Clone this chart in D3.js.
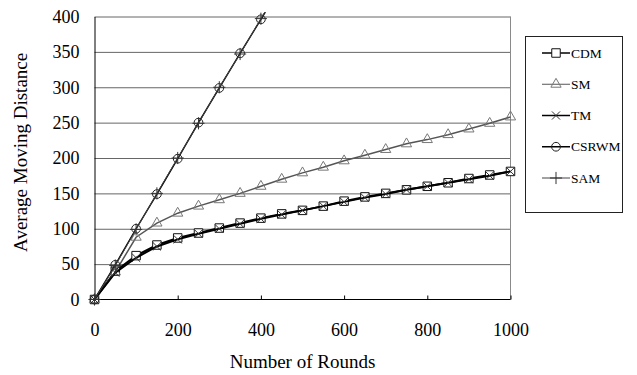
<!DOCTYPE html>
<html lang='en'>
  <head>
    <meta charset='utf-8'>
    <script src='https://cdn.jsdelivr.net/npm/d3@7/dist/d3.min.js'></script>
    <style>
      body { margin: 0; background: #fff; }
      text { font-family: 'Liberation Serif', 'Times New Roman', serif; fill: #000; }
      .grid line { stroke: #666; stroke-width: 1; }
      .grid path { display: none; }
    </style>
  </head>
  <body>
    <div id='chart'></div>
    <script>
      // data
      var rounds = [0, 50, 100, 150, 200, 250, 300, 350, 400, 450, 500,
                    550, 600, 650, 700, 750, 800, 850, 900, 950, 1000];
      var cdm = [0, 40, 62, 77, 87, 94, 101, 108, 115, 121, 126,
                 132, 139, 145, 150, 155, 160, 165, 171, 176, 181];
      var sm = [0, 39, 88, 108, 122, 132, 141, 150, 160, 170, 179,
                187, 196, 204, 212, 220, 226, 233, 241, 249, 258];
      var tm = [0, 38, 59, 75, 85, 93, 100, 107, 114, 120, 126,
                132, 138, 144, 149, 155, 160, 165, 170, 175, 181];
      var csrwm = [0, 49, 100, 149, 199, 250, 299, 348, 396, 445];
      var sam = [0, 48, 99, 150, 200, 249, 300, 347, 397, 446];
      var xTicks = [0, 200, 400, 600, 800, 1000];
      var yTicks = [0, 50, 100, 150, 200, 250, 300, 350, 400];
      var seriesNames = ['CDM', 'SM', 'TM', 'CSRWM', 'SAM'];

      var svgWidth = 637, svgHeight = 375;
      var plotLeft = 94.5, plotRight = 510.5, plotTop = 16.5, plotBottom = 299.5;

      var svg = d3.select('#chart').append('svg')
                  .attr('width', svgWidth)
                  .attr('height', svgHeight);

      var x = d3.scaleLinear().domain([0, 1000]).range([plotLeft, plotRight]);
      var y = d3.scaleLinear().domain([0, 400]).range([plotBottom, plotTop]);

      // gridlines
      svg.append('g')
         .attr('class', 'grid')
         .attr('transform', 'translate(' + plotLeft + ',0)')
         .call(d3.axisLeft(y).tickValues(yTicks.slice(1))
               .tickSize(-(plotRight - plotLeft)).tickFormat(''));

      // right border of plot area
      svg.append('line')
         .attr('x1', plotRight).attr('x2', plotRight)
         .attr('y1', y(400)).attr('y2', y(0))
         .attr('stroke', '#8a8a8a');

      // axes
      var xAxis = svg.append('g')
         .attr('transform', 'translate(0,' + plotBottom + ')')
         .call(d3.axisBottom(x).tickValues(xTicks)
               .tickSize(-4).tickPadding(24).tickFormat(d3.format('d')));
      xAxis.select('.domain').attr('stroke', '#000').attr('d', 'M' + plotLeft + ',0H' + plotRight);
      xAxis.selectAll('.tick line').attr('stroke', '#000');
      xAxis.selectAll('text').style('font-size', '18px');

      var yAxis = svg.append('g')
         .attr('transform', 'translate(' + plotLeft + ',0)')
         .call(d3.axisLeft(y).tickValues(yTicks).tickSize(0).tickPadding(15));
      yAxis.select('.domain').attr('stroke', '#000');
      yAxis.selectAll('text').style('font-size', '18px');

      // axis titles
      svg.append('text')
         .text('Number of Rounds')
         .attr('x', (plotLeft + plotRight) / 2)
         .attr('y', 368)
         .attr('text-anchor', 'middle')
         .style('font-size', '19px');

      svg.append('text')
         .text('Average Moving Distance')
         .attr('transform', 'translate(27,' + y(208) + ') rotate(-90)')
         .attr('text-anchor', 'middle')
         .style('font-size', '19px');

      // clip for lines running off the top
      svg.append('clipPath').attr('id', 'plotClip')
         .append('rect')
         .attr('x', plotLeft - 10).attr('y', y(406))
         .attr('width', plotRight - plotLeft + 20).attr('height', y(0) - y(406) + 10);

      var series = [
        {name: 'CDM', values: cdm, stroke: '#000', width: 2, symbol: d3.symbolSquare, size: 72, mstroke: '#111', fill: '#fff'},
        {name: 'SM', values: sm, stroke: '#555', width: 1.5, symbol: d3.symbolTriangle2, size: 75, mstroke: '#777', fill: 'none'},
        {name: 'TM', values: tm, stroke: '#000', width: 2, symbol: d3.symbolTimes, size: 45, mstroke: '#333', fill: 'none'},
        {name: 'CSRWM', values: csrwm, stroke: '#000', width: 1.5, symbol: d3.symbolCircle, size: 60, mstroke: '#222', fill: 'none'},
        {name: 'SAM', values: sam, stroke: '#444', width: 1, symbol: d3.symbolPlus, size: 50, mstroke: '#333', fill: 'none'}
      ];

      var line = d3.line()
                   .x(function(d) { return x(d[0]); })
                   .y(function(d) { return y(d[1]); });

      var plot = svg.append('g').attr('clip-path', 'url(#plotClip)');

      series.forEach(function(s) {
        var pts = s.values.map(function(v, i) { return [rounds[i], v]; });
        plot.append('path')
            .datum(pts)
            .attr('fill', 'none')
            .attr('stroke', s.stroke)
            .attr('stroke-width', s.width)
            .attr('d', line);

        plot.selectAll('.m' + s.name)
            .data(pts.filter(function(d) { return d[1] <= 400; }))
            .enter().append('path')
            .attr('class', 'm' + s.name)
            .attr('transform', function(d) { return 'translate(' + x(d[0]) + ',' + y(d[1]) + ')'; })
            .attr('d', d3.symbol().type(s.symbol).size(s.size))
            .attr('fill', s.fill)
            .attr('stroke', s.mstroke)
            .attr('stroke-width', 1);
      });

      // legend
      var legend = svg.append('g');
      legend.append('rect')
            .attr('x', 525.5).attr('y', 36.5)
            .attr('width', 97).attr('height', 176)
            .attr('fill', '#fff').attr('stroke', '#222');

      var legendY = d3.scalePoint().domain(seriesNames).range([53, 178]);

      series.forEach(function(s) {
        var ly = legendY(s.name);
        legend.append('line')
              .attr('x1', 542).attr('x2', 570)
              .attr('y1', ly).attr('y2', ly)
              .attr('stroke', s.stroke)
              .attr('stroke-width', s.name === 'SAM' || s.name === 'SM' ? 1 : 1.5);
        legend.append('path')
              .attr('transform', 'translate(556,' + ly + ')')
              .attr('d', d3.symbol().type(s.symbol).size(s.size))
              .attr('fill', s.fill)
              .attr('stroke', s.mstroke);
        legend.append('text')
              .text(s.name)
              .attr('x', 571)
              .attr('y', ly)
              .attr('dy', '0.35em')
              .style('font-size', '13.5px');
      });
    </script>
  </body>
</html>
